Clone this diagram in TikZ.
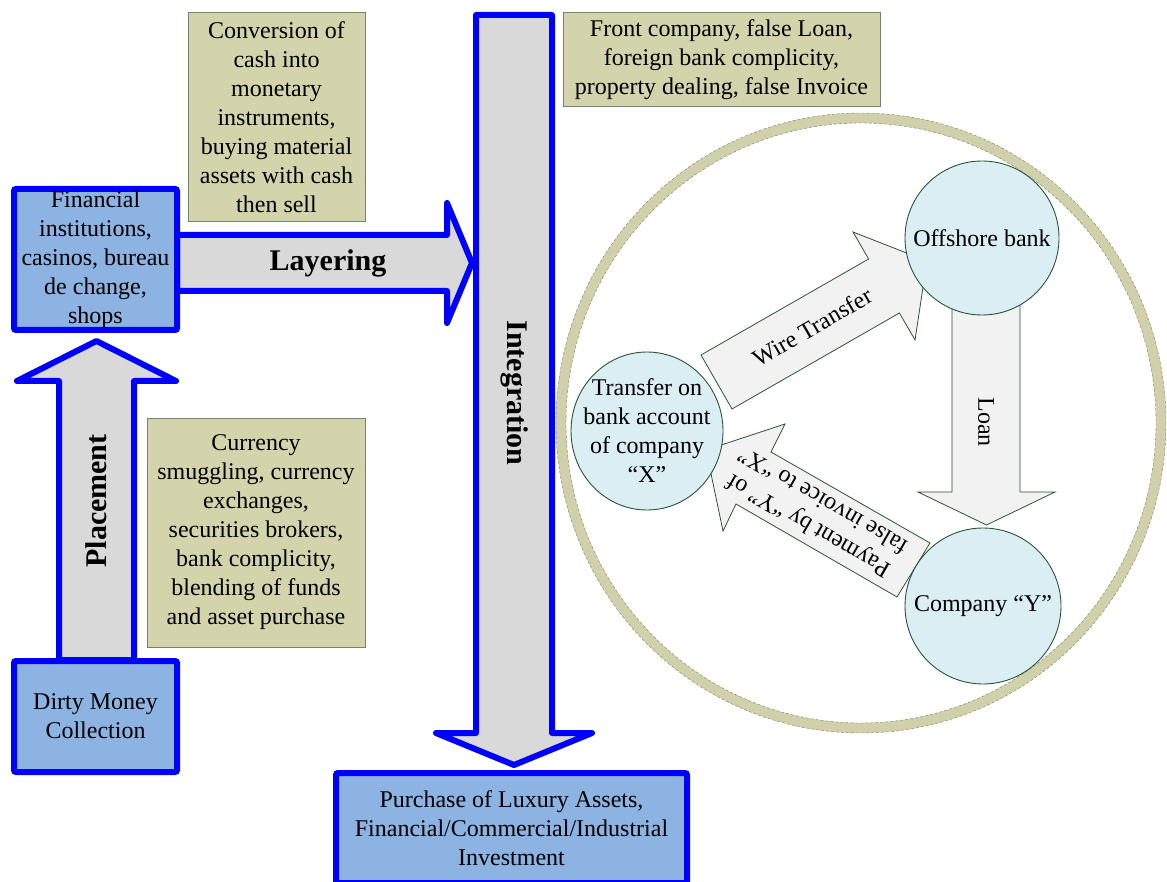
\documentclass[tikz,border=0pt]{standalone}
\usepackage{fontspec}
\setmainfont{Liberation Serif}
\usetikzlibrary{shapes.geometric}
\definecolor{stagefill}{RGB}{141,179,226}
\definecolor{arrowgray}{RGB}{217,217,217}
\definecolor{notefill}{RGB}{212,212,172}
\definecolor{noteedge}{RGB}{110,135,110}
\definecolor{ringfill}{RGB}{208,208,170}
\definecolor{ringdash}{RGB}{120,130,100}
\definecolor{partyfill}{RGB}{218,238,243}
\definecolor{partyedge}{RGB}{40,85,55}
\definecolor{flowfill}{RGB}{242,242,242}
\tikzset{
  stagebox/.style={draw=blue,line width=6pt,fill=stagefill,rounded corners=2pt,
    inner sep=0pt,align=center},
  notebox/.style={draw=noteedge,line width=1pt,fill=notefill,inner sep=0pt,
    align=center},
  bigarrow/.style={draw=blue,line width=6pt,fill=arrowgray,line join=round},
  steplbl/.style={font=\bfseries\fontsize{30}{36}\selectfont},
  ringband/.style={draw=ringfill,line width=10pt},
  ringedge/.style={draw=ringdash,line width=0.4pt,densely dashed},
  party/.style={draw=partyedge,line width=0.9pt,fill=partyfill,inner sep=0pt},
  partylbl/.style={align=center},
  flowarrow/.style={draw=partyedge,line width=0.8pt,fill=flowfill},
  flowlbl/.style={align=center},
}
\begin{document}
\begin{tikzpicture}[x=1pt,y=-1pt,font=\fontsize{24}{29}\selectfont]
  \useasboundingbox (0,0) rectangle (1167,882);

  % ring round the offshore cycle
  \draw[ringband] (861,423) ellipse [x radius=300,y radius=305];
  \draw[ringedge] (861,423) ellipse [x radius=305,y radius=310];
  \draw[ringedge] (861,423) ellipse [x radius=295,y radius=300];

  % cycle arrows
  \draw[flowarrow] (701,355) -- (868.6,259) -- (853,232) -- (927,261)
    -- (915,340) -- (899.4,313) -- (732,409) -- cycle;
  \node[flowlbl,rotate=30] (wirelbl) at (812,327) {Wire Transfer};
  \draw[flowarrow] (952,300) -- (952,492) -- (918,492) -- (986.5,525)
    -- (1055,492) -- (1020,492) -- (1020,300) -- cycle;
  \node[flowlbl,rotate=-90] (loanlbl) at (986,422) {Loan};
  \draw[flowarrow] (930,543) -- (771,452) -- (785,424) -- (706,450)
    -- (723,531) -- (736,504) -- (897,597) -- cycle;
  \node[flowlbl,rotate=150] (paylbl) at (815,514)
    {Payment by ``Y'' of\\false invoice to ``X''};

  % parties
  \node[party,circle,minimum size=154pt,
    label={[partylbl]center:Offshore bank}] (bank) at (982,238) {};
  \node[party,ellipse,minimum width=152pt,minimum height=158pt,
    label={[partylbl]center:{Transfer on\\bank account\\of company\\``X''}}]
    (acctx) at (647,431) {};
  \node[party,circle,minimum size=156pt,
    label={[partylbl]center:{Company ``Y''}}] (compy) at (983,606) {};

  % the three stages
  \draw[bigarrow] (59,660) -- (59,381) -- (17,381) -- (96.5,341) -- (176,381)
    -- (134,381) -- (134,660) -- cycle;
  \node[steplbl,rotate=90] (placelbl) at (96,501) {Placement};
  \draw[bigarrow] (177,235) -- (447,235) -- (447,203) -- (472,263)
    -- (447,323) -- (447,291) -- (177,291) -- cycle;
  \node[steplbl] (laylbl) at (328,263) {Layering};
  \draw[bigarrow] (476,15) -- (552,15) -- (552,733) -- (592,733) -- (514,765)
    -- (436,733) -- (476,733) -- cycle;
  \node[steplbl,rotate=-90] (integlbl) at (515,393) {Integration};

  \node[stagebox,minimum width=163pt,minimum height=141pt] (finbox)
    at (95.5,259.5) {Financial\\institutions,\\casinos, bureau\\de change,\\shops};
  \node[stagebox,minimum width=163pt,minimum height=111pt] (dirty)
    at (95.5,716.5) {Dirty Money\\Collection};
  \node[stagebox,minimum width=351pt,minimum height=110pt] (purchase)
    at (511.5,828) {Purchase of Luxury Assets,\\Financial/Commercial/Industrial\\Investment};

  % notes
  \node[notebox,minimum width=177pt,minimum height=209pt] (convnote)
    at (276.5,117.5) {Conversion of\\cash into\\monetary\\instruments,\\buying material\\assets with cash\\then sell};
  \node[notebox,minimum width=317pt,minimum height=94pt] (frontnote)
    at (721.5,60) {Front company, false Loan,\\foreign bank complicity,\\property dealing, false Invoice};
  \node[notebox,minimum width=218pt,minimum height=229pt] (currnote)
    at (256,532.5) {Currency\\smuggling, currency\\exchanges,\\securities brokers,\\bank complicity,\\blending of funds\\and asset purchase};
\end{tikzpicture}
\end{document}
